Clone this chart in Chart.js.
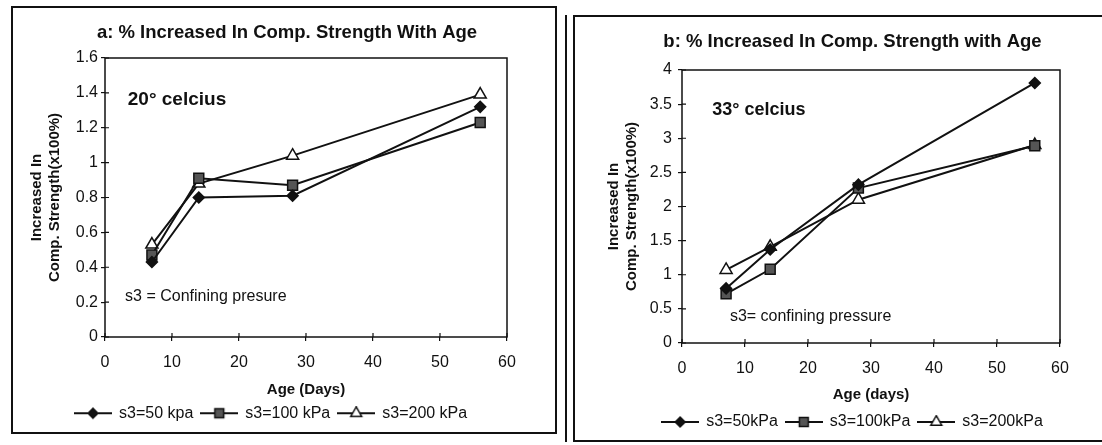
<!DOCTYPE html>
<html>
<head>
<meta charset="utf-8">
<script src="https://cdn.jsdelivr.net/npm/chart.js@4.4.0/dist/chart.umd.min.js"></script>
<style>
  html, body { margin: 0; padding: 0; background: #fff; overflow: hidden; width: 1102px; height: 445px; }
  .panel { position: absolute; border: 2px solid #111; box-sizing: border-box; background: #fff; overflow: hidden; }
  #panelA { left: 11px; top: 6px; width: 546px; height: 428px; }
  #panelB { left: 573px; top: 15px; width: 539px; height: 427px; }
  #rule { position: absolute; left: 565px; top: 15px; width: 2px; height: 427px; background: #111; }
  canvas { display: block; }
</style>
</head>
<body>
<div class="panel" id="panelA"><canvas id="chartA" width="542" height="424"></canvas></div>
<div id="rule"></div>
<div class="panel" id="panelB"><canvas id="chartB" width="535" height="423"></canvas></div>
<script>
// --- Data ---
const ageDays = [7, 14, 28, 56];

// a: 20 deg celcius
const a50 = [0.43, 0.80, 0.81, 1.32];
const a100 = [0.47, 0.91, 0.87, 1.23];
const a200 = [0.53, 0.88, 1.04, 1.39];
const labelsA = ['s3=50 kpa', 's3=100 kPa', 's3=200 kPa'];

// b: 33 deg celcius
const b50 = [0.80, 1.37, 2.32, 3.81];
const b100 = [0.72, 1.08, 2.27, 2.89];
const b200 = [1.07, 1.41, 2.10, 2.90];
const labelsB = ['s3=50kPa', 's3=100kPa', 's3=200kPa'];

// tick values
const xTicks = [0, 10, 20, 30, 40, 50, 60];
const yTicksA = [0, 0.2, 0.4, 0.6, 0.8, 1, 1.2, 1.4, 1.6];
const yTicksB = [0, 0.5, 1, 1.5, 2, 2.5, 3, 3.5, 4];

// --- Styles ---
const INK = '#111';
const FAMILY = '"Liberation Sans", Arial, sans-serif';
const markerStyles = [
    { pointStyle: 'rectRot', radius: 5.5, bg: '#111' },
    { pointStyle: 'rect', radius: 7, bg: '#555' },
    { pointStyle: 'triangle', radius: 7, bg: '#fff' }
];

// little line+marker picture for the legend
function legendIcon(style) {
    const c = document.createElement('canvas');
    c.width = 38;
    c.height = 14;
    const g = c.getContext('2d');
    g.strokeStyle = INK;
    g.lineWidth = 2;
    g.beginPath();
    g.moveTo(0, 7);
    g.lineTo(38, 7);
    g.stroke();
    g.fillStyle = style.bg;
    g.lineWidth = 1.5;
    Chart.helpers.drawPoint(g, { pointStyle: style.pointStyle, radius: style.radius * 0.9, rotation: 0, borderWidth: 1.5 }, 19, 7);
    return c;
}

// plot-area box and the inner half of the cross tick marks
const framePlugin = {
    id: 'frame',
    beforeDatasetsDraw(chart) {
        const { ctx, chartArea: a, scales: { x, y } } = chart;
        ctx.save();
        ctx.strokeStyle = INK;
        ctx.lineWidth = 1.5;
        ctx.strokeRect(a.left, a.top, a.right - a.left, a.bottom - a.top);
        ctx.lineWidth = 1.2;
        ctx.beginPath();
        x.ticks.forEach(t => {
            const px = x.getPixelForValue(t.value);
            ctx.moveTo(px, a.bottom);
            ctx.lineTo(px, a.bottom - 4);
        });
        y.ticks.forEach(t => {
            const py = y.getPixelForValue(t.value);
            ctx.moveTo(a.left, py);
            ctx.lineTo(a.left + 4, py);
        });
        ctx.stroke();
        ctx.restore();
    }
};

// text notes placed inside the plot (in data units)
function makeNotes(items) {
    return {
        id: 'notes',
        afterDraw(chart) {
            const { ctx, scales: { x, y } } = chart;
            ctx.save();
            ctx.fillStyle = INK;
            ctx.textAlign = 'left';
            ctx.textBaseline = 'middle';
            items.forEach(n => {
                ctx.font = n.font;
                ctx.fillText(n.text, x.getPixelForValue(n.x), y.getPixelForValue(n.y));
            });
            ctx.restore();
        }
    };
}

function makeChart(id, o) {
    const icons = markerStyles.map(legendIcon);
    return new Chart(document.getElementById(id), {
        type: 'scatter',
        data: {
            datasets: o.series.map((vals, i) => ({
                label: o.labels[i],
                data: ageDays.map((d, k) => ({ x: d, y: vals[k] })),
                showLine: true,
                borderColor: INK,
                borderWidth: 2,
                pointStyle: markerStyles[i].pointStyle,
                pointRadius: markerStyles[i].radius,
                pointBackgroundColor: markerStyles[i].bg,
                pointBorderColor: INK,
                pointBorderWidth: 1.5,
                tension: 0
            }))
        },
        options: {
            responsive: false,
            animation: false,
            events: [],
            layout: { padding: o.pad },
            scales: {
                x: {
                    type: 'linear',
                    min: 0,
                    max: 60,
                    afterBuildTicks: s => { s.ticks = xTicks.map(v => ({ value: v })); },
                    afterFit: s => { s.height = o.xHeight; },
                    grid: { drawOnChartArea: false, drawTicks: true, tickLength: 4, color: INK, lineWidth: 1.2 },
                    border: { display: false },
                    ticks: { font: { family: FAMILY, size: 16 }, color: INK, padding: 12, maxRotation: 0, autoSkip: false, callback: v => String(v) },
                    title: { display: true, text: o.xTitle, color: INK, font: { family: FAMILY, size: 15, weight: 'bold', lineHeight: 1 }, padding: { top: 0, bottom: o.xTitlePad } }
                },
                y: {
                    type: 'linear',
                    min: o.yTicks[0],
                    max: o.yTicks[o.yTicks.length - 1],
                    afterBuildTicks: s => { s.ticks = o.yTicks.map(v => ({ value: v })); },
                    afterFit: s => { s.width = o.yWidth; },
                    grid: { drawOnChartArea: false, drawTicks: true, tickLength: 4, color: INK, lineWidth: 1.2 },
                    border: { display: false },
                    ticks: { font: { family: FAMILY, size: 16 }, color: INK, padding: o.yTickPad, autoSkip: false, callback: v => String(v) },
                    title: { display: true, text: ['Increased In', 'Comp. Strength(x100%)'], color: INK, font: { family: FAMILY, size: 15, weight: 'bold', lineHeight: 1.2 }, padding: { top: o.yTitlePad, bottom: 0 } }
                }
            },
            plugins: {
                title: {
                    display: true,
                    text: o.title,
                    color: INK,
                    font: { family: FAMILY, size: 18.5, weight: 'bold', lineHeight: 1.2 },
                    padding: { top: 13.9, bottom: o.titleBottom }
                },
                legend: {
                    position: 'bottom',
                    align: o.legendAlign,
                    labels: {
                        usePointStyle: true,
                        pointStyleWidth: 36,
                        color: INK,
                        font: { family: FAMILY, size: 16 },
                        padding: 8,
                        generateLabels: chart => Chart.defaults.plugins.legend.labels.generateLabels(chart)
                            .map((it, i) => Object.assign(it, { pointStyle: icons[i], rotation: 0 }))
                    }
                },
                tooltip: { enabled: false }
            }
        },
        plugins: [framePlugin, makeNotes(o.notes)]
    });
}

// --- Render both panels ---
makeChart('chartA', {
    series: [a50, a100, a200],
    labels: labelsA,
    yTicks: yTicksA,
    title: 'a: % Increased In Comp. Strength With Age',
    xTitle: 'Age (Days)',
    pad: { left: 54, right: 48, top: 0, bottom: 0.75 },
    yWidth: 38,
    yTickPad: 3,
    yTitlePad: -39,
    xHeight: 60.25,
    xTitlePad: 0,
    titleBottom: 13.9,
    legendAlign: 'start',
    notes: [
        { text: '20° celcius', x: 3.4, y: 1.36, font: 'bold 19px ' + FAMILY },
        { text: 's3 = Confining presure', x: 3.0, y: 0.23, font: '16px ' + FAMILY }
    ]
});

makeChart('chartB', {
    series: [b50, b100, b200],
    labels: labelsB,
    yTicks: yTicksB,
    title: 'b: % Increased In Comp. Strength with Age',
    xTitle: 'Age (days)',
    pad: { left: 70, right: 50, top: 0, bottom: 0 },
    yWidth: 37,
    yTickPad: 6,
    yTitlePad: -40,
    xHeight: 63,
    xTitlePad: 4,
    titleBottom: 16.9,
    legendAlign: 'center',
    notes: [
        { text: '33° celcius', x: 4.8, y: 3.41, font: 'bold 18px ' + FAMILY },
        { text: 's3= confining pressure', x: 7.6, y: 0.38, font: '16px ' + FAMILY }
    ]
});
</script>
</body>
</html>
